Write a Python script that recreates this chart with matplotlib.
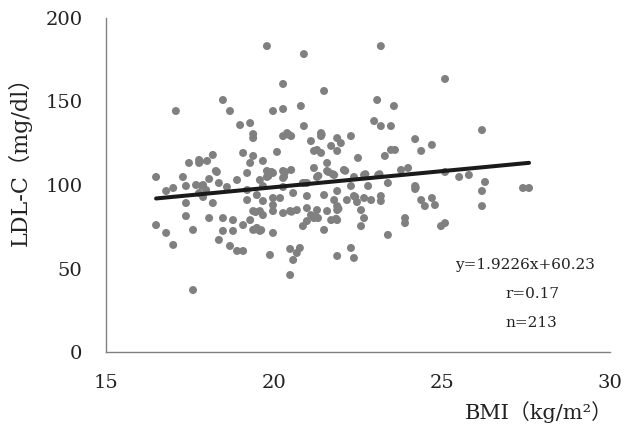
import matplotlib
matplotlib.use("Agg")
import matplotlib.pyplot as plt
import numpy as np

# BMI (kg/m2) and LDL-C (mg/dl)
bmi = [
    19.79, 18.48, 17.08, 18.69, 19.97, 18.99, 19.29, 19.38, 19.38, 19.08,
    19.38, 20.09, 18.18, 17.77, 17.77, 18.01, 17.47, 19.29, 19.67, 18.27,
    19.20, 19.79, 19.97, 19.79, 16.49, 17.29, 18.07, 18.90, 19.58, 20.27,
    20.89, 23.18, 25.09, 21.49, 23.07, 23.57, 20.27, 20.80, 22.98, 23.18,
    23.48, 20.89, 20.27, 20.39, 20.51, 21.40, 21.40, 21.10, 21.88, 21.99,
    22.29, 21.70, 24.20, 24.70, 23.48, 23.60, 24.38, 21.19, 21.28, 21.40,
    21.88, 23.30, 22.50, 21.58, 21.19, 22.08, 23.78, 23.99, 21.58, 20.27,
    20.51, 22.68, 23.10, 21.79, 21.28, 22.38, 20.27, 25.09, 26.19, 25.51,
    25.80, 26.28, 16.79, 17.00, 17.38, 17.68, 17.89, 17.77, 17.98, 17.89,
    18.36, 18.60, 19.20, 19.67, 19.20, 19.49, 19.67, 19.97, 17.38, 18.18,
    17.38, 18.07, 18.48, 18.78, 19.38, 19.58, 19.67, 19.97, 19.97, 19.29,
    16.49, 16.79, 17.59, 17.00, 18.48, 18.78, 19.08, 19.38, 19.49, 19.58,
    19.97, 18.36, 18.69, 18.90, 19.08, 19.88, 17.59, 20.27, 20.86, 20.98,
    22.29, 22.80, 23.39, 24.20, 24.20, 20.18, 20.57, 20.98, 21.49, 21.88,
    21.79, 22.17, 22.38, 22.47, 22.68, 22.89, 23.18, 23.18, 24.38, 24.70,
    24.49, 24.79, 20.27, 20.48, 20.68, 20.98, 21.28, 21.10, 21.19, 21.58,
    21.88, 21.88, 22.59, 21.31, 20.98, 21.70, 21.88, 22.68, 23.90, 23.90,
    20.86, 21.49, 22.59, 25.09, 24.97, 23.39, 20.48, 20.77, 20.68, 20.57,
    22.29, 21.88, 22.38, 20.48, 26.19, 26.19, 27.41, 27.59,
    19.45, 19.45, 19.62, 20.30, 20.33, 21.32, 21.75, 22.72, 21.42, 20.45,
    17.85, 17.80, 21.25, 21.85, 22.42, 21.62, 23.14, 19.93, 19.83, 21.92,
    20.52, 22.12, 20.92, 24.22, 18.30,
]
ldl = [
    183.2, 150.9, 144.3, 144.3, 144.3, 135.9, 137.1, 130.5, 128.1, 119.2,
    117.4, 119.8, 118.0, 115.0, 113.2, 114.4, 113.2, 113.2, 114.4, 108.4,
    107.2, 108.4, 107.2, 104.8, 104.8, 104.8, 103.6, 103.0, 103.0, 160.5,
    178.4, 183.2, 163.5, 156.3, 150.9, 147.3, 145.5, 147.3, 138.3, 135.3,
    135.3, 135.3, 129.3, 131.1, 129.3, 131.1, 129.3, 126.3, 128.1, 125.1,
    129.3, 123.4, 127.5, 124.0, 121.0, 121.0, 120.4, 120.4, 121.0, 119.2,
    120.4, 117.4, 116.2, 113.2, 110.2, 109.0, 109.0, 110.2, 108.4, 108.4,
    109.0, 106.0, 106.0, 106.0, 104.8, 104.8, 104.2, 107.8, 132.9, 104.8,
    106.0, 101.8, 96.4, 98.2, 99.4, 100.0, 100.0, 95.2, 97.0, 92.8,
    101.2, 98.8, 97.0, 99.4, 91.0, 94.0, 90.4, 92.2, 89.2, 89.2,
    81.4, 80.2, 80.2, 79.0, 84.4, 84.4, 82.0, 88.0, 84.4, 79.0,
    76.0, 71.3, 73.1, 64.1, 72.5, 72.5, 76.0, 73.1, 74.3, 72.5,
    71.3, 67.1, 63.5, 60.5, 60.5, 58.1, 37.1, 98.8, 101.2, 101.2,
    99.4, 99.4, 101.2, 99.4, 97.6, 92.2, 95.2, 93.4, 94.0, 96.4,
    91.0, 91.0, 93.4, 89.8, 92.2, 91.0, 93.4, 90.4, 91.0, 92.2,
    87.4, 88.0, 83.2, 84.4, 85.0, 86.2, 85.0, 82.0, 80.2, 84.4,
    87.4, 85.0, 85.0, 80.2, 78.4, 79.0, 79.0, 80.2, 80.2, 77.2,
    75.4, 73.1, 75.4, 77.2, 75.4, 70.1, 61.7, 62.3, 59.3, 55.1,
    62.3, 57.5, 56.3, 46.1, 96.4, 87.4, 98.2, 98.2,
    83.8, 73.5, 73.0, 105.0, 107.8, 105.5, 106.5, 106.5, 130.2, 130.0,
    99.5, 114.0, 81.0, 79.8, 92.8, 107.8, 106.5, 107.8, 105.3, 85.8,
    84.0, 108.5, 101.2, 98.5, 107.8,
]

# regression reported on the chart
slope, intercept = 1.9226, 60.23
r_value, n_value = 0.17, 213

serif = ["DejaVu Serif", "Noto Sans CJK JP"]

fig = plt.figure(figsize=(6.25, 4.34), dpi=100)
ax = fig.add_axes([106 / 625, 82 / 434, 504 / 625, 334 / 434])

ax.scatter(bmi, ldl, s=33, color="#808080", edgecolors="none", zorder=2)
xs = np.array([min(bmi), max(bmi)])
ax.plot(xs, slope * xs + intercept, color="#1a1a1a", linewidth=2.9,
        solid_capstyle="round", zorder=3)

ax.set_xlim(15, 30)
ax.set_ylim(0, 200)
ax.set_xticks([15, 20, 25, 30])
ax.set_yticks([0, 50, 100, 150, 200])
for side in ("top", "right"):
    ax.spines[side].set_visible(False)
for side in ("left", "bottom"):
    ax.spines[side].set_color("#808080")
    ax.spines[side].set_linewidth(1.0)
ax.tick_params(axis="x", length=0, pad=15.5, labelsize=14)
ax.tick_params(axis="y", length=0, pad=17, labelsize=14)
for lab in ax.get_xticklabels() + ax.get_yticklabels():
    lab.set_fontfamily("DejaVu Serif")
    lab.set_color("#222222")

fig.text(20 / 625, (434 - 156) / 434, "LDL-C（mg/dl）", rotation=90,
         ha="center", va="center", fontsize=16, family=serif, color="#222222")
fig.text(613 / 625, (434 - 412) / 434, "BMI（kg/m²）", ha="right",
         va="center", fontsize=15, family=serif, color="#222222")

fig.text(525 / 625, (434 - 265) / 434, f"y={slope}x+{intercept}",
         ha="center", va="center", fontsize=11, family=serif, color="#222222")
fig.text(532 / 625, (434 - 294) / 434, f"r={r_value}",
         ha="center", va="center", fontsize=11, family=serif, color="#222222")
fig.text(531 / 625, (434 - 323) / 434, f"n={n_value}",
         ha="center", va="center", fontsize=11, family=serif, color="#222222")

fig.savefig("out.png", dpi=100)
